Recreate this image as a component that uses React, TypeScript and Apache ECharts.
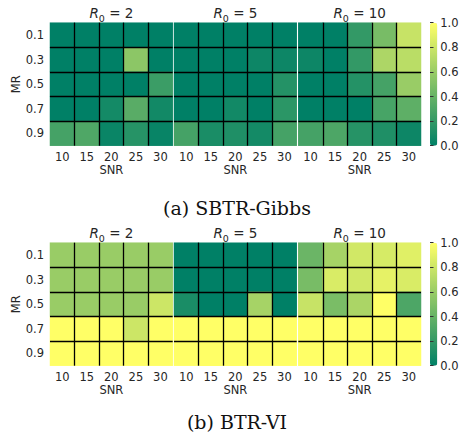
import React, { useEffect, useRef } from "react";
import * as echarts from "echarts";

const snrLabels = ["10", "15", "20", "25", "30"];
const mrLabels = ["0.1", "0.3", "0.5", "0.7", "0.9"];
const r0Values = [2, 5, 10];
const cbarTicks = [0, 0.2, 0.4, 0.6, 0.8, 1.0];

// rows: MR 0.1..0.9, cols: SNR 10..30
const gibbsR2 = [
  [0.0, 0.0, 0.0, 0.0, 0.0],
  [0.0, 0.0, 0.0, 0.55, 0.0],
  [0.0, 0.0, 0.0, 0.0, 0.23],
  [0.0, 0.0, 0.08, 0.35, 0.07],
  [0.27, 0.31, 0.04, 0.15, 0.03],
];
const gibbsR5 = [
  [0.0, 0.0, 0.0, 0.0, 0.0],
  [0.0, 0.0, 0.0, 0.05, 0.05],
  [0.0, 0.0, 0.0, 0.0, 0.14],
  [0.0, 0.0, 0.07, 0.0, 0.17],
  [0.27, 0.1, 0.12, 0.08, 0.27],
];
const gibbsR10 = [
  [0.0, 0.0, 0.2, 0.47, 0.78],
  [0.05, 0.0, 0.2, 0.68, 0.73],
  [0.0, 0.0, 0.14, 0.27, 0.6],
  [0.0, 0.0, 0.0, 0.28, 0.37],
  [0.27, 0.3, 0.15, 0.12, 0.05],
];
const viR2 = [
  [0.6, 0.6, 0.6, 0.6, 0.6],
  [0.6, 0.6, 0.6, 0.6, 0.6],
  [0.6, 0.6, 0.6, 0.6, 0.8],
  [1.0, 1.0, 1.0, 0.8, 1.0],
  [1.0, 1.0, 1.0, 1.0, 1.0],
];
const viR5 = [
  [0.0, 0.0, 0.0, 0.0, 0.0],
  [0.0, 0.0, 0.0, 0.0, 0.0],
  [0.1, 0.0, 0.0, 0.65, 0.0],
  [1.0, 1.0, 1.0, 1.0, 1.0],
  [1.0, 1.0, 1.0, 1.0, 1.0],
];
const viR10 = [
  [0.42, 0.65, 0.82, 0.84, 0.88],
  [0.47, 0.85, 0.82, 0.9, 0.85],
  [0.78, 0.48, 0.67, 1.0, 0.3],
  [1.0, 1.0, 1.0, 1.0, 1.0],
  [1.0, 1.0, 1.0, 1.0, 1.0],
];
const captions = ["(a) SBTR-Gibbs", "(b) BTR-VI"];

const matrices = [gibbsR2, gibbsR5, gibbsR10, viR2, viR5, viR10];

const TXT = "#262626";
const FONT = "DejaVu Sans";

export default function App() {
  const ref = useRef<HTMLDivElement>(null);
  useEffect(() => {
    if (!ref.current) return;
    const chart = echarts.init(ref.current, undefined, { renderer: "svg" });
    const panelLefts = [50, 174, 298.3];
    const panelW = 122.7;
    const rowTops = [22.7, 242.7];
    const panelH = 123;
    const cbarLeft = 430;
    const cbarW = 7.3;

    const grids: any[] = [];
    const xAxes: any[] = [];
    const yAxes: any[] = [];
    const series: any[] = [];
    const graphics: any[] = [];

    matrices.forEach((m, p) => {
      const row = Math.floor(p / 3);
      const col = p % 3;
      grids.push({ left: panelLefts[col], top: rowTops[row], width: panelW, height: panelH });
      xAxes.push({
        type: "category",
        gridIndex: p,
        data: snrLabels,
        z: 5,
        axisLine: { show: false },
        axisTick: { show: false },
        axisLabel: { margin: 5, color: TXT, fontFamily: FONT, fontSize: 11.5 },
        name: "SNR",
        nameLocation: "middle",
        nameGap: 18,
        nameTextStyle: { color: TXT, fontFamily: FONT, fontSize: 11.5 },
        splitLine: {
          show: true,
          interval: 0,
          showMinLine: false,
          showMaxLine: false,
          lineStyle: { color: "#000", width: 1.3 },
        },
      });
      yAxes.push({
        type: "category",
        gridIndex: p,
        data: mrLabels,
        inverse: true,
        z: 5,
        axisLine: { show: false },
        axisTick: { show: false },
        axisLabel: { show: col === 0, margin: 6, color: TXT, fontFamily: FONT, fontSize: 11.5 },
        name: col === 0 ? "MR" : "",
        nameLocation: "middle",
        nameRotate: 90,
        nameGap: 28,
        nameTextStyle: { color: TXT, fontFamily: FONT, fontSize: 11.5 },
        splitLine: {
          show: true,
          interval: 0,
          showMinLine: false,
          showMaxLine: false,
          lineStyle: { color: "#000", width: 1.3 },
        },
      });
      const data: any[] = [];
      m.forEach((r, ri) => r.forEach((v, ci) => data.push([ci, ri, v])));
      series.push({
        type: "heatmap",
        xAxisIndex: p,
        yAxisIndex: p,
        data,
        z: 2,
        itemStyle: { borderWidth: 0 },
        emphasis: { disabled: true },
      });
      graphics.push({
        type: "text",
        x: panelLefts[col] + panelW / 2,
        y: rowTops[row] - 9.5,
        style: {
          text: `{i|R}{s|0}{n| = ${r0Values[col]}}`,
          align: "center",
          verticalAlign: "middle",
          fill: TXT,
          rich: {
            i: { fontStyle: "italic", fontFamily: FONT, fontSize: 13.5, fill: TXT, verticalAlign: "bottom" },
            s: { fontFamily: FONT, fontSize: 9.5, fill: TXT, verticalAlign: "bottom", padding: [0, 0, -3, 0] },
            n: { fontFamily: FONT, fontSize: 13.5, fill: TXT, verticalAlign: "bottom" },
          },
        },
      });
    });

    // colorbar axes
    rowTops.forEach((t, i) => {
      const gi = grids.length;
      grids.push({ left: cbarLeft, top: t, width: cbarW, height: panelH });
      xAxes.push({ type: "value", gridIndex: gi, show: false, min: 0, max: 1 });
      yAxes.push({
        type: "value",
        gridIndex: gi,
        position: "right",
        min: 0,
        max: 1,
        interval: 0.2,
        z: 5,
        axisLine: { show: false },
        axisTick: { show: true, length: 3.5, lineStyle: { color: "#333", width: 1 } },
        splitLine: { show: false },
        axisLabel: {
          margin: 3,
          color: TXT,
          fontFamily: FONT,
          fontSize: 11.5,
          formatter: (v: number) => (cbarTicks.includes(Math.round(v * 10) / 10) ? v.toFixed(1) : ""),
        },
      });
      graphics.push({
        type: "text",
        x: 237,
        y: i === 0 ? 208 : 421.5,
        style: {
          text: captions[i],
          align: "center",
          verticalAlign: "middle",
          fill: "#111",
          fontFamily: "DejaVu Serif",
          fontSize: 19,
        },
      });
    });

    const visualMaps = rowTops.map((t, i) => ({
      type: "continuous",
      min: 0,
      max: 1,
      seriesIndex: [i * 3, i * 3 + 1, i * 3 + 2],
      orient: "vertical",
      left: cbarLeft,
      top: t,
      padding: 0,
      itemWidth: cbarW,
      itemHeight: panelH,
      calculable: false,
      hoverLink: false,
      text: null,
      inRange: { color: ["#008066", "#ffff66"] },
    }));

    chart.setOption({
      animation: false,
      backgroundColor: "#fff",
      grid: grids,
      xAxis: xAxes,
      yAxis: yAxes,
      series,
      visualMap: visualMaps,
      graphic: graphics,
    });
    return () => chart.dispose();
  }, []);
  return (
    <div
      ref={ref}
      style={{ position: "absolute", left: 0, top: 0, width: 464, height: 441 }}
    />
  );
}
